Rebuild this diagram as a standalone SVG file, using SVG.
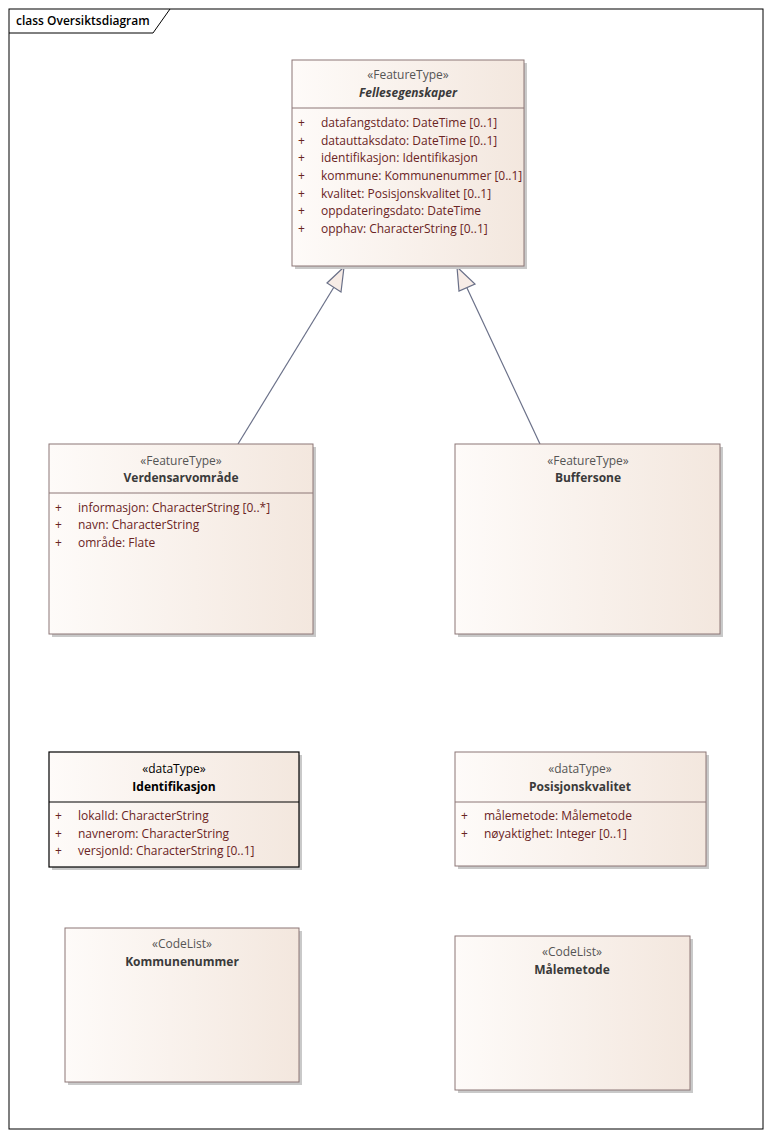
<svg xmlns="http://www.w3.org/2000/svg" width="771" height="1137" viewBox="0 0 771 1137">
<defs>
<linearGradient id="g" x1="0" y1="0" x2="1" y2="0">
<stop offset="0" stop-color="#fefbf9"/>
<stop offset="1" stop-color="#f3e7de"/>
</linearGradient>
</defs>
<style>
text{font-family:"Open Sans","Noto Sans","Liberation Sans",sans-serif;font-size:12px}
.box{fill:url(#g);stroke:#8c7676;stroke-width:1}
.sel{fill:url(#g);stroke:#000;stroke-width:1.2}
.sh{fill:#c9c9c9}
.sep{stroke:#8c7676;stroke-width:1}
.st{fill:#555;text-anchor:middle}
.nm{fill:#3a3a3a;font-weight:bold;text-anchor:middle}
.it{font-style:italic}
.conn{stroke:#6a7088;stroke-width:1.2;fill:none}
.head{fill:#f7ece6;stroke:#6a7088;stroke-width:1.2}
</style>
<rect x="0" y="0" width="771" height="1137" fill="#fff"/>
<g id="frame">
<rect x="9" y="9" width="754" height="1120" fill="none" stroke="#000" stroke-width="1"/>
<path d="M9 33 H153 L170 9" fill="none" stroke="#000" stroke-width="1"/>
<text x="16" y="25" style="font-size:12px;font-weight:600" fill="#000">class Oversiktsdiagram</text>
</g>
<g id="connectors">
<line class="conn" x1="238" y1="444" x2="334" y2="287"/>
<polygon class="head" points="344,267 327,283 341,292"/>
<line class="conn" x1="540" y1="444" x2="467" y2="288"/>
<polygon class="head" points="457,267 475,284 459,291"/>
</g>
<g id="Fellesegenskaper">
<rect class="sh" x="295" y="63" width="232" height="206"/>
<rect class="box" x="292" y="60" width="232" height="206"/>
<line class="sep" x1="292" y1="108" x2="524" y2="108"/>
<text class="st" x="408" y="79">«FeatureType»</text>
<text class="nm it" x="408" y="97">Fellesegenskaper</text>
<text x="298" y="127" fill="#6a2424">+</text><text x="321" y="127" fill="#6a2424">datafangstdato: DateTime [0..1]</text>
<text x="298" y="145" fill="#6a2424">+</text><text x="321" y="145" fill="#6a2424">datauttaksdato: DateTime [0..1]</text>
<text x="298" y="162" fill="#6a2424">+</text><text x="321" y="162" fill="#6a2424">identifikasjon: Identifikasjon</text>
<text x="298" y="180" fill="#6a2424">+</text><text x="321" y="180" fill="#6a2424">kommune: Kommunenummer [0..1]</text>
<text x="298" y="198" fill="#6a2424">+</text><text x="321" y="198" fill="#6a2424">kvalitet: Posisjonskvalitet [0..1]</text>
<text x="298" y="215" fill="#6a2424">+</text><text x="321" y="215" fill="#6a2424">oppdateringsdato: DateTime</text>
<text x="298" y="233" fill="#6a2424">+</text><text x="321" y="233" fill="#6a2424">opphav: CharacterString [0..1]</text>
</g>
<g id="Verdensarvomrade">
<rect class="sh" x="52" y="447" width="264" height="190"/>
<rect class="box" x="49" y="444" width="264" height="190"/>
<line class="sep" x1="49" y1="493" x2="313" y2="493"/>
<text class="st" x="181" y="465">«FeatureType»</text>
<text class="nm" x="181" y="482">Verdensarvområde</text>
<text x="55" y="512" fill="#6a2424">+</text><text x="78" y="512" fill="#6a2424">informasjon: CharacterString [0..*]</text>
<text x="55" y="529" fill="#6a2424">+</text><text x="78" y="529" fill="#6a2424">navn: CharacterString</text>
<text x="55" y="547" fill="#6a2424">+</text><text x="78" y="547" fill="#6a2424">område: Flate</text>
</g>
<g id="Buffersone">
<rect class="sh" x="458" y="447" width="265" height="190"/>
<rect class="box" x="455" y="444" width="265" height="190"/>
<text class="st" x="588" y="465">«FeatureType»</text>
<text class="nm" x="588" y="482">Buffersone</text>
</g>
<g id="Identifikasjon">
<rect class="sh" x="52" y="755" width="250" height="115"/>
<rect class="sel" x="49" y="752" width="250" height="115"/>
<line x1="49" y1="802" x2="299" y2="802" stroke="#000" stroke-width="1.2"/>
<text x="174" y="773" fill="#000" text-anchor="middle">«dataType»</text>
<text x="174" y="791" fill="#000" font-weight="bold" text-anchor="middle">Identifikasjon</text>
<text x="55" y="820" fill="#6a2424">+</text><text x="78" y="820" fill="#6a2424">lokalId: CharacterString</text>
<text x="55" y="838" fill="#6a2424">+</text><text x="78" y="838" fill="#6a2424">navnerom: CharacterString</text>
<text x="55" y="855" fill="#6a2424">+</text><text x="78" y="855" fill="#6a2424">versjonId: CharacterString [0..1]</text>
</g>
<g id="Posisjonskvalitet">
<rect class="sh" x="458" y="755" width="251" height="114"/>
<rect class="box" x="455" y="752" width="251" height="114"/>
<line class="sep" x1="455" y1="802" x2="706" y2="802"/>
<text class="st" x="580" y="773">«dataType»</text>
<text class="nm" x="580" y="791">Posisjonskvalitet</text>
<text x="461" y="820" fill="#6a2424">+</text><text x="484" y="820" fill="#6a2424">målemetode: Målemetode</text>
<text x="461" y="838" fill="#6a2424">+</text><text x="484" y="838" fill="#6a2424">nøyaktighet: Integer [0..1]</text>
</g>
<g id="Kommunenummer">
<rect class="sh" x="68" y="931" width="234" height="154"/>
<rect class="box" x="65" y="928" width="234" height="154"/>
<text class="st" x="182" y="948">«CodeList»</text>
<text class="nm" x="182" y="966">Kommunenummer</text>
</g>
<g id="Malemetode">
<rect class="sh" x="458" y="939" width="235" height="154"/>
<rect class="box" x="455" y="936" width="235" height="154"/>
<text class="st" x="572" y="956">«CodeList»</text>
<text class="nm" x="572" y="974">Målemetode</text>
</g>
</svg>
